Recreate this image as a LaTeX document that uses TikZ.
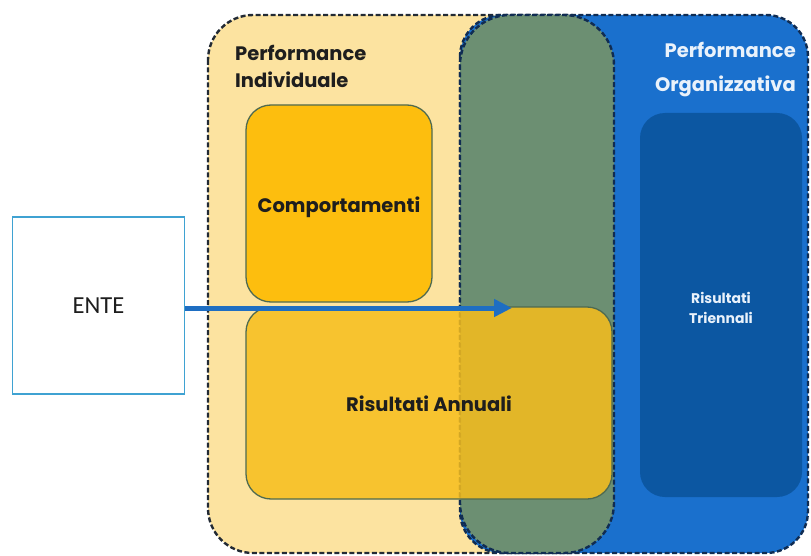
\documentclass[tikz,border=0pt]{standalone}
\usepackage{fontspec}
\setmainfont{Poppins}
\newfontfamily\entefont{Carlito}
\usetikzlibrary{arrows.meta}

\definecolor{indivfill}{HTML}{FCE3A0}
\definecolor{orgfill}{HTML}{1A70CD}
\definecolor{overlapfill}{HTML}{6C8F72}
\definecolor{triennfill}{HTML}{0C57A2}
\definecolor{compfill}{HTML}{FDBE0E}
\definecolor{annualfill}{HTML}{F7BE1C}
\definecolor{boxedge}{HTML}{4E6A50}
\definecolor{dashgray}{HTML}{222A34}
\definecolor{dashnavy}{HTML}{102C52}
\definecolor{enteedge}{HTML}{3FA2D2}
\definecolor{arrowblue}{HTML}{1E6EC2}
\definecolor{darktext}{HTML}{1E1E1E}
\definecolor{lighttext}{HTML}{EAF2FB}

\tikzset{
  region/.style={line width=2.4pt, dash pattern=on 5pt off 2.5pt},
  innerbox/.style={draw=boxedge, line width=1.3pt, rounded corners=25pt},
  boxlabel/.style={font=\bfseries\fontsize{19.5}{22}\selectfont, text=darktext},
  title/.style={font=\bfseries\fontsize{19.5}{27}\selectfont, align=left, inner sep=0pt},
  flow/.style={draw=arrowblue, line width=5pt, -{Triangle[length=18pt,width=17pt]}}
}

\begin{document}
\begin{tikzpicture}[x=1pt,y=-1pt]
\useasboundingbox (0,0) rectangle (811,556);

% individual performance area
\draw[region, draw=dashgray, fill=indivfill, rounded corners=45pt]
  (208,15) rectangle (614,553);
% organizational performance area
\draw[region, draw=dashnavy, fill=orgfill, rounded corners=42pt]
  (460,15) rectangle (808,553);
% shared band between the two areas
\draw[region, draw=dashnavy, fill=overlapfill, rounded corners=50pt]
  (460,15) rectangle (614,553);

% titles
\node[title, text=darktext, anchor=north west] (indiv) at (235,45)
  {Performance\\Individuale};
\node[title, text=lighttext, anchor=north east, align=right,
  font=\bfseries\fontsize{19.5}{34}\selectfont] (org) at (796,42)
  {Performance\\Organizzativa};

% boxes and their labels
\node[innerbox, fill=compfill, minimum width=186pt, minimum height=197pt]
  (comp) at (339,203.5) {};
\node[boxlabel] (complabel) at (339,207) {Comportamenti};
\node[innerbox, fill=annualfill, fill opacity=0.85,
  minimum width=366pt, minimum height=192pt]
  (annual) at (429,403) {};
\node[boxlabel] (annuallabel) at (429,404) {Risultati Annuali};
\node[rounded corners=25pt, fill=triennfill, minimum width=162pt, minimum height=384pt]
  (trienn) at (721,305) {};
\node[text=lighttext, align=center, font=\bfseries\fontsize{14}{20}\selectfont]
  (triennlabel) at (721,308) {Risultati\\Triennali};

% source entity
\node[draw=enteedge, line width=1.8pt, fill=white, minimum width=172pt, minimum height=177pt,
  font=\entefont\fontsize{24.5}{28}\selectfont, text=darktext]
  (ente) at (98.5,305.5) {ENTE};
\coordinate (tip) at (512,308);
\draw[flow] (ente.east |- tip) -- (tip);
\end{tikzpicture}
\end{document}
